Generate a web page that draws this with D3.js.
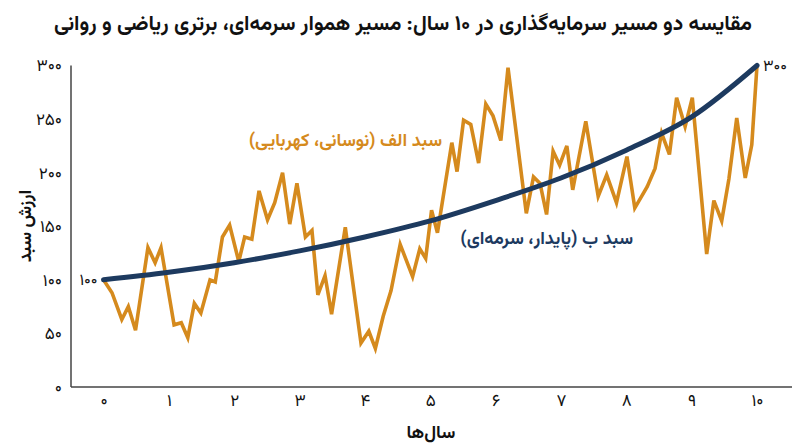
<!DOCTYPE html>
<html lang="fa">
<head>
<meta charset="utf-8">
<script src="https://cdn.jsdelivr.net/npm/d3@7"></script>
<style>
  html, body { margin: 0; padding: 0; background: #ffffff; }
  svg { display: block; }
  text { font-family: Vazirmatn, Vazir, "Noto Sans Arabic", "DejaVu Sans", sans-serif; }
</style>
</head>
<body>
<svg id="chart" width="800" height="447"></svg>
<script>
// ---- data ----
const title = "مقایسه دو مسیر سرمایه‌گذاری در ۱۰ سال: مسیر هموار سرمه‌ای، برتری ریاضی و روانی";
const xTitle = "سال‌ها";
const yTitle = "ارزش سبد";
const labelA = "سبد الف (نوسانی، کهربایی)";
const labelB = "سبد ب (پایدار، سرمه‌ای)";
const xTicks = [0, 1, 2, 3, 4, 5, 6, 7, 8, 9, 10];
const yTicks = [0, 50, 100, 150, 200, 250, 300];

// Series A (volatile, amber): time in years, value
const yearsA = [0.00, 0.13, 0.28, 0.38, 0.49, 0.68, 0.79, 0.88, 1.08, 1.19,
                1.29, 1.39, 1.49, 1.63, 1.71, 1.82, 1.93, 2.07, 2.16, 2.27,
                2.38, 2.51, 2.62, 2.74, 2.85, 2.96, 3.09, 3.19, 3.28, 3.39,
                3.49, 3.70, 3.94, 4.06, 4.16, 4.28, 4.40, 4.54, 4.73, 4.84,
                4.93, 5.02, 5.11, 5.33, 5.41, 5.51, 5.62, 5.74, 5.85, 5.96,
                6.08, 6.19, 6.47, 6.58, 6.68, 6.78, 6.88, 6.98, 7.09, 7.18,
                7.38, 7.57, 7.70, 7.85, 8.01, 8.13, 8.32, 8.44, 8.54, 8.66,
                8.77, 8.90, 9.01, 9.23, 9.34, 9.46, 9.57, 9.69, 9.82, 9.92, 10.00];
const valuesA = [100, 88, 63, 75, 53, 130, 116, 130, 58, 60,
                 46, 78, 69, 100, 98, 140, 151, 117, 140, 138,
                 183, 156, 172, 200, 152, 190, 140, 146, 86, 104,
                 68, 149, 41, 52, 36, 66, 90, 133, 103, 129,
                 120, 165, 144, 228, 201, 249, 245, 209, 264, 253,
                 230, 298, 162, 196, 190, 161, 220, 207, 225, 184,
                 248, 178, 198, 172, 215, 167, 187, 204, 237, 217,
                 270, 243, 270, 124, 174, 155, 194, 251, 195, 226, 300];

// Series B (steady, navy): value at each year
const yearsB = [0, 1, 2, 3, 4, 5, 6, 7, 8, 9, 10];
const valuesB = [100, 107, 116, 127, 140, 155, 174, 195, 221, 252, 300];

const colorA = "#d58a1d";
const colorB = "#1d3a5f";

// ---- helpers ----
const faDigits = "۰۱۲۳۴۵۶۷۸۹";
const toFa = n => String(n).replace(/\d/g, d => faDigits[+d]);
const FONT = 'Vazirmatn, Vazir, "Noto Sans Arabic", "DejaVu Sans", sans-serif';

// ---- layout ----
const svg = d3.select("#chart");
const x = d3.scaleLinear().domain([0, 10]).range([103.5, 757]);
const y = d3.scaleLinear().domain([0, 300]).range([387, 65.5]);
const axisLeftX = 71, axisRightX = 792;

// title
svg.append("text")
  .attr("x", 403).attr("y", 30)
  .attr("text-anchor", "middle")
  .attr("direction", "rtl")
  .style("font-size", "21px").style("font-weight", "bold").attr("fill", "#111")
  .text(title);

// axis lines
svg.append("line")
  .attr("x1", axisLeftX).attr("x2", axisLeftX)
  .attr("y1", y(300)).attr("y2", y(0))
  .attr("stroke", "#444").attr("stroke-width", 1.5);
svg.append("line")
  .attr("x1", axisLeftX).attr("x2", axisRightX)
  .attr("y1", y(0)).attr("y2", y(0))
  .attr("stroke", "#444").attr("stroke-width", 1.5);

// y ticks
const yAxis = d3.axisLeft(y).tickValues(yTicks).tickSize(0).tickPadding(0).tickFormat(toFa);
const gy = svg.append("g").attr("transform", `translate(62,0)`).call(yAxis);
gy.select(".domain").remove();
gy.selectAll("text").style("font-size", "17px").attr("fill", "#111")
  .style("font-family", FONT);

// x ticks
const xAxis = d3.axisBottom(x).tickValues(xTicks).tickSize(0).tickPadding(0).tickFormat(toFa);
const gx = svg.append("g").attr("transform", `translate(0,394)`).call(xAxis);
gx.select(".domain").remove();
gx.selectAll("text").style("font-size", "17px").attr("fill", "#111")
  .style("font-family", FONT);

// axis titles
svg.append("text")
  .attr("x", 431).attr("y", 438)
  .attr("text-anchor", "middle").attr("direction", "rtl")
  .style("font-size", "18px").style("font-weight", "bold").attr("fill", "#111")
  .text(xTitle);
svg.append("text")
  .attr("transform", `translate(31,226) rotate(-90)`)
  .attr("text-anchor", "middle").attr("direction", "rtl")
  .style("font-size", "18px").style("font-weight", "bold").attr("fill", "#111")
  .text(yTitle);

// series A
const dataA = yearsA.map((t, i) => ({ t, v: valuesA[i] }));
const lineA = d3.line().x(d => x(d.t)).y(d => y(d.v));
svg.append("path").datum(dataA)
  .attr("d", lineA)
  .attr("fill", "none").attr("stroke", colorA)
  .attr("stroke-width", 3.6).attr("stroke-linejoin", "miter");

// series B
const dataB = yearsB.map((t, i) => ({ t, v: valuesB[i] }));
const lineB = d3.line().x(d => x(d.t)).y(d => y(d.v)).curve(d3.curveMonotoneX);
svg.append("path").datum(dataB)
  .attr("d", lineB)
  .attr("fill", "none").attr("stroke", colorB)
  .attr("stroke-width", 5).attr("stroke-linecap", "round");

// start/end annotations
svg.append("text")
  .attr("x", x(0) - 6).attr("y", y(valuesB[0]) + 5)
  .attr("text-anchor", "end")
  .style("font-size", "16px").attr("fill", "#111")
  .text(toFa(valuesB[0]));
svg.append("text")
  .attr("x", x(10) + 6).attr("y", y(valuesB[valuesB.length - 1]) + 5)
  .attr("text-anchor", "start")
  .style("font-size", "16px").attr("fill", "#111")
  .text(toFa(valuesB[valuesB.length - 1]));

// series labels
svg.append("text")
  .attr("x", 442).attr("y", 146)
  .attr("direction", "rtl").attr("text-anchor", "start")
  .style("font-size", "18px").style("font-weight", "bold").attr("fill", colorA)
  .text(labelA);
svg.append("text")
  .attr("x", 633).attr("y", 244)
  .attr("direction", "rtl").attr("text-anchor", "start")
  .style("font-size", "18px").style("font-weight", "bold").attr("fill", colorB)
  .text(labelB);
</script>
</body>
</html>
